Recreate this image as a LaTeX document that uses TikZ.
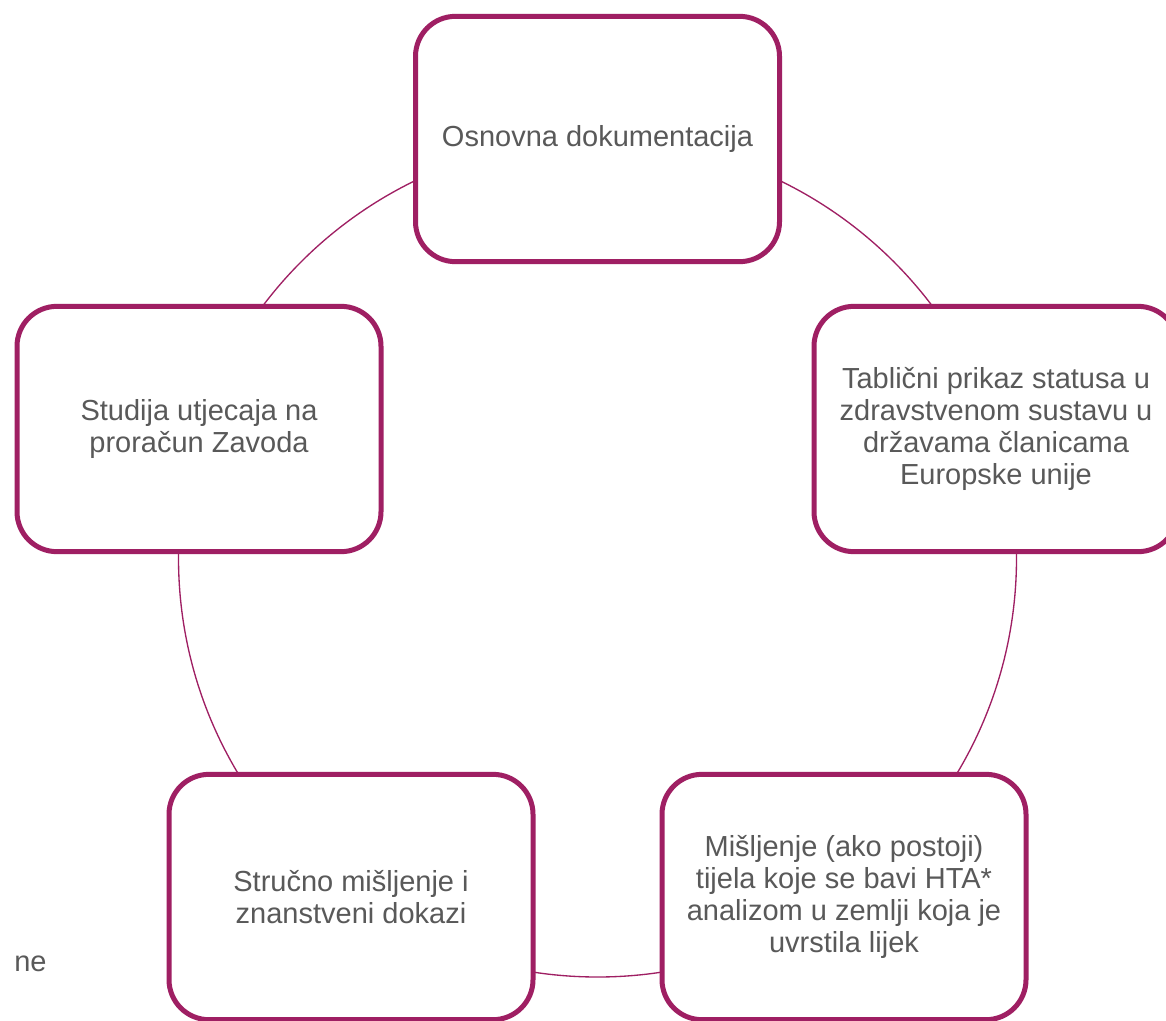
\documentclass[tikz,border=0pt]{standalone}
\usepackage{fontspec}
\setmainfont{Liberation Sans}
\definecolor{plum}{RGB}{159,31,99}
\definecolor{txtgray}{RGB}{89,89,89}
\begin{document}
\begin{tikzpicture}[x=0.75pt,y=-0.75pt,
  card/.style={draw=plum,line width=3.75pt,fill=white,rounded corners=30pt,
    minimum width=273pt,minimum height=184pt,inner sep=0pt,align=center,
    text=txtgray,font=\fontsize{21.75}{24}\selectfont},
  ring/.style={draw=plum,line width=1pt}]
\useasboundingbox (0,0) rectangle (1166,1020);
\clip (0,0) rectangle (1166,1020);
\fill[white] (0,0) rectangle (1166,1020);
\coordinate (c) at (597.5,558);
\draw[ring] (c) circle[radius=314.25pt];
\node[card] (top) at (597.5,139) {Osnovna dokumentacija};
\node[card] (right) at (996,429) {Tablični prikaz statusa u\\zdravstvenom sustavu u\\državama članicama\\Europske unije};
\node[card] (bright) at (844,897) {Mišljenje (ako postoji)\\tijela koje se bavi HTA*\\analizom u zemlji koja je\\uvrstila lijek};
\node[card] (bleft) at (351,897) {Stručno mišljenje i\\znanstveni dokazi};
\node[card] (left) at (199,429) {Studija utjecaja na\\proračun Zavoda};
\node[anchor=west,inner sep=0pt,text=txtgray,font=\fontsize{21.75}{24}\selectfont] (ne) at (14,964) {ne};
\end{tikzpicture}
\end{document}
